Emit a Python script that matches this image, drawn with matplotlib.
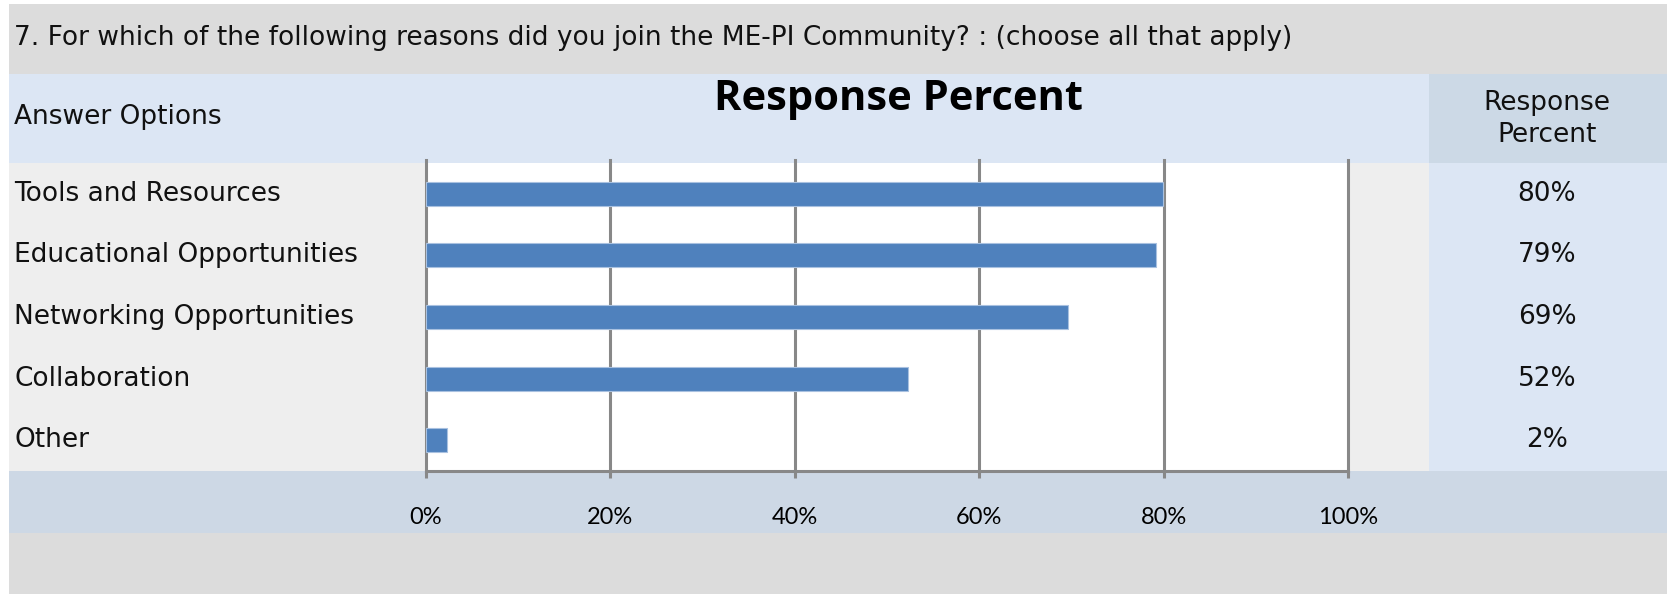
import numpy as np
import matplotlib.pyplot as plt
from matplotlib.patches import Rectangle

# survey data
question = "7. For which of the following reasons did you join the ME-PI Community? : (choose all that apply)"
options = ["Tools and Resources", "Educational Opportunities", "Networking Opportunities",
           "Collaboration", "Other"]
bar_values = [79.9, 79.2, 69.6, 52.3, 2.3]
pct_labels = ["80%", "79%", "69%", "52%", "2%"]
xticks = [0, 20, 40, 60, 80, 100]

W, H = 1667, 594
fig = plt.figure(figsize=(W / 100, H / 100), dpi=100)
fig.patch.set_facecolor('white')


def box(x0, y0, x1, y1, color):
    # pixel coords, y from the top
    fig.patches.append(Rectangle((x0 / W, 1 - y1 / H), (x1 - x0) / W, (y1 - y0) / H,
                                 transform=fig.transFigure, facecolor=color,
                                 edgecolor='none', zorder=-1))


def txt(x, y, s, **kw):
    fig.text(x / W, 1 - y / H, s, **kw)


# background bands
box(9, 4, W, 74, '#dcdcdc')
box(9, 74, 1429, 163, '#dce6f4')
box(1429, 74, W, 163, '#ccd9e6')
box(9, 163, 1429, 471, '#eeeeee')
box(1429, 163, W, 471, '#dce6f4')
box(9, 471, W, 533, '#cdd8e5')
box(9, 533, W, H, '#dcdcdc')

label_font = dict(family='DejaVu Sans', fontsize=19, color='#111111')
txt(14, 38, question, va='center', ha='left', **label_font)
txt(14, 117, "Answer Options", va='center', ha='left', **label_font)
txt(1547, 119, "Response\nPercent", va='center', ha='center', linespacing=1.25, **label_font)

# chart area
x0, x1, y0, y1 = 426, 1348, 163, 471
ax = fig.add_axes([x0 / W, 1 - y1 / H, (x1 - x0) / W, (y1 - y0) / H])
ax.set_zorder(2)
ax.set_facecolor('white')
n = len(options)
ypos = np.arange(n)
ax.barh(ypos, bar_values, height=0.39, color='#4f81bd', edgecolor='#a9c1e0',
        linewidth=0.8, zorder=3)
ax.set_xlim(0, 100)
ax.set_ylim(n - 0.5, -0.5)
ax.set_xticks(xticks)
ax.set_xticklabels([f"{t}%" for t in xticks], family='Lato', fontsize=17)
ax.set_yticks([])
for t in xticks:
    ax.axvline(t, ymin=0, ymax=1.01, color='#888888', linewidth=2.2, zorder=1, clip_on=False)
for s in ['top', 'right', 'left']:
    ax.spines[s].set_visible(False)
ax.spines['bottom'].set_color('#888888')
ax.spines['bottom'].set_linewidth(2.2)
ax.tick_params(axis='x', length=5, width=2.2, color='#888888', pad=21)

# row labels and percents
for i, (opt, lab) in enumerate(zip(options, pct_labels)):
    yc = y0 + (i + 0.5) * (y1 - y0) / n
    txt(14, yc, opt, va='center', ha='left', **label_font)
    txt(1547, yc, lab, va='center', ha='center', **label_font)

txt(898, 99, "Response Percent", family='Open Sans', fontweight='bold', fontsize=30,
    ha='center', va='center', color='black')

fig.savefig('out.png', dpi=100)
